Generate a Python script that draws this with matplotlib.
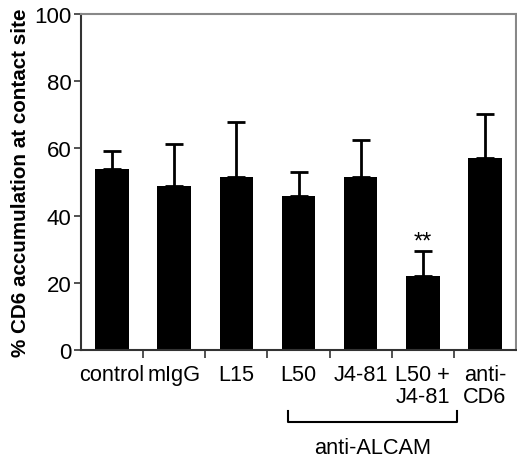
import matplotlib
matplotlib.use("Agg")
import matplotlib.pyplot as plt
import matplotlib.transforms as mtransforms

categories = ["control", "mIgG", "L15", "L50", "J4-81", "L50 +\nJ4-81", "anti-\nCD6"]
values = [53.9, 48.7, 51.6, 45.9, 51.6, 22.0, 57.0]
errors = [5.2, 12.6, 16.4, 7.2, 10.9, 7.6, 13.3]
yticks = [0, 20, 40, 60, 80, 100]
group_label = "anti-ALCAM"
signif = "**"
signif_index = 5

plt.rcParams['font.family'] = ['Liberation Sans', 'DejaVu Sans']

fig = plt.figure(figsize=(5.17, 4.64), dpi=100)
ax = fig.add_axes([81/517, 113/464, 435/517, 336/464])

x = list(range(len(categories)))
ax.bar(x, values, width=0.54, color='black', zorder=2)
ax.errorbar(x, values, yerr=[[0]*len(errors), errors], fmt='none', ecolor='black',
            elinewidth=2, capsize=6.5, capthick=2, zorder=1)

ax.set_xlim(-0.5, len(categories) - 0.5)
ax.set_ylim(0, 100)
ax.set_yticks(yticks)
ax.set_yticklabels([str(t) for t in yticks], fontsize=16)
ax.set_xticks(x)
ax.set_xticklabels(categories, fontsize=15.7, linespacing=1.05)
ax.tick_params(axis='x', length=0, pad=10)
ax.tick_params(axis='y', length=5, width=1.2, color='#333333', pad=2)

# boundary ticks on x
ax.set_xticks([i + 0.5 for i in range(len(categories) - 1)], minor=True)
ax.tick_params(axis='x', which='minor', length=6, width=1.2, color='#333333', direction='out')

for s in ['left', 'bottom']:
    ax.spines[s].set_color('#333333')
    ax.spines[s].set_linewidth(1.5)
for s in ['top', 'right']:
    ax.spines[s].set_color('#888888')
    ax.spines[s].set_linewidth(1.5)

ax.set_ylabel("% CD6 accumulation at contact site", fontsize=14.9, fontweight='bold', labelpad=3)

# significance
ax.text(signif_index, values[signif_index] + errors[signif_index] - 0.6, signif,
        ha='center', va='bottom', fontsize=17)

# bracket
trans = mtransforms.blended_transform_factory(ax.transData, ax.transAxes)
xl, xr = 2.83, 5.55
ax.plot([xl, xl, xr, xr], [-0.181, -0.213, -0.213, -0.181], color='black', lw=1.5,
        transform=trans, clip_on=False)
ax.text((xl + xr) / 2, -0.289, group_label, transform=trans, ha='center', va='center',
        fontsize=15.7)

fig.savefig("out.png", dpi=100)
